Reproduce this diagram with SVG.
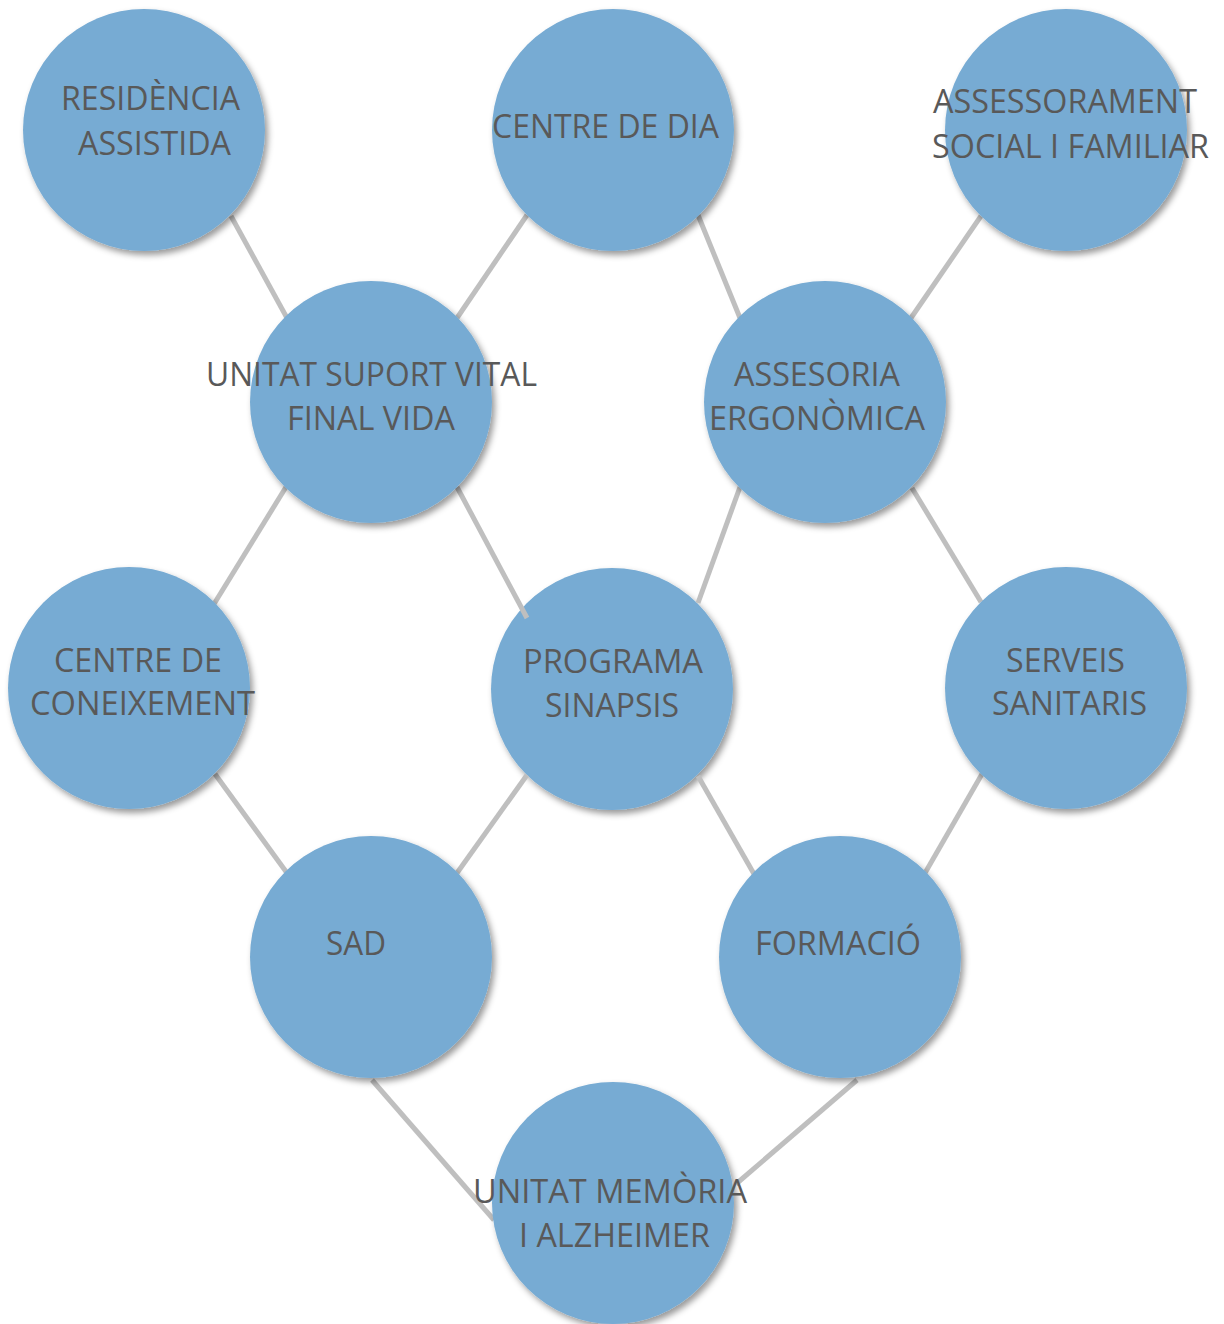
<svg xmlns="http://www.w3.org/2000/svg" width="1224" height="1324" viewBox="0 0 1224 1324">
<defs>
<filter id="sh" x="-20%" y="-20%" width="140%" height="140%">
<feDropShadow dx="3" dy="4" stdDeviation="3" flood-color="#000" flood-opacity="0.4"/>
</filter>
<style>
.n{fill:#77abd3;filter:url(#sh);}
.t{font-family:"Open Sans","Liberation Sans",sans-serif;font-size:32px;fill:#595959;text-anchor:middle;}
.c line{stroke:#bfbfbf;stroke-width:5;}
</style>
</defs>
<rect width="1224" height="1324" fill="#fff"/>
<g id="programa">
<circle class="n" cx="612" cy="689" r="121"/>
<text class="t" x="613" y="673" textLength="180" lengthAdjust="spacingAndGlyphs">PROGRAMA</text>
<text class="t" x="612" y="717" textLength="134" lengthAdjust="spacingAndGlyphs">SINAPSIS</text>
</g>
<g id="connectors" class="c">
<line x1="231" y1="216" x2="287" y2="318"/>
<line x1="527" y1="215" x2="457" y2="318"/>
<line x1="698" y1="215" x2="740" y2="318"/>
<line x1="981" y1="216" x2="911" y2="318"/>
<line x1="286" y1="487" x2="214" y2="604"/>
<line x1="457" y1="487" x2="527" y2="618"/>
<line x1="740" y1="487" x2="698" y2="603"/>
<line x1="912" y1="488" x2="981" y2="602"/>
<line x1="215" y1="774" x2="287" y2="873"/>
<line x1="527" y1="775" x2="457" y2="873"/>
<line x1="698" y1="776" x2="754" y2="874"/>
<line x1="982" y1="774" x2="925" y2="873"/>
<line x1="372" y1="1080" x2="494" y2="1220"/>
<line x1="857" y1="1080" x2="736" y2="1184"/>
</g>
<g id="residencia">
<circle class="n" cx="144" cy="130" r="121"/>
<text class="t" x="150.5" y="110" textLength="179" lengthAdjust="spacingAndGlyphs">RESIDÈNCIA</text>
<text class="t" x="154.5" y="155" textLength="153" lengthAdjust="spacingAndGlyphs">ASSISTIDA</text>
</g>
<g id="centre-dia">
<circle class="n" cx="613" cy="130" r="121"/>
<text class="t" x="605.5" y="138" textLength="227" lengthAdjust="spacingAndGlyphs">CENTRE DE DIA</text>
</g>
<g id="assessorament">
<circle class="n" cx="1066" cy="130" r="121"/>
<text class="t" x="1065" y="113" textLength="264" lengthAdjust="spacingAndGlyphs">ASSESSORAMENT</text>
<text class="t" x="1070.5" y="158" textLength="277" lengthAdjust="spacingAndGlyphs">SOCIAL I FAMILIAR</text>
</g>
<g id="unitat-suport">
<circle class="n" cx="371" cy="402" r="121"/>
<text class="t" x="371.5" y="386" textLength="331" lengthAdjust="spacingAndGlyphs">UNITAT SUPORT VITAL</text>
<text class="t" x="371" y="430" textLength="168" lengthAdjust="spacingAndGlyphs">FINAL VIDA</text>
</g>
<g id="assesoria">
<circle class="n" cx="825" cy="402" r="121"/>
<text class="t" x="817" y="386" textLength="166" lengthAdjust="spacingAndGlyphs">ASSESORIA</text>
<text class="t" x="817" y="430" textLength="216" lengthAdjust="spacingAndGlyphs">ERGONÒMICA</text>
</g>
<g id="coneixement">
<circle class="n" cx="129" cy="688" r="121"/>
<text class="t" x="138" y="672" textLength="168" lengthAdjust="spacingAndGlyphs">CENTRE DE</text>
<text class="t" x="142.5" y="715" textLength="225" lengthAdjust="spacingAndGlyphs">CONEIXEMENT</text>
</g>
<g id="serveis">
<circle class="n" cx="1066" cy="688" r="121"/>
<text class="t" x="1065.5" y="672" textLength="119" lengthAdjust="spacingAndGlyphs">SERVEIS</text>
<text class="t" x="1069.5" y="715" textLength="155" lengthAdjust="spacingAndGlyphs">SANITARIS</text>
</g>
<g id="sad">
<circle class="n" cx="371" cy="957" r="121"/>
<text class="t" x="356" y="955" textLength="60" lengthAdjust="spacingAndGlyphs">SAD</text>
</g>
<g id="formacio">
<circle class="n" cx="840" cy="957" r="121"/>
<text class="t" x="838" y="955" textLength="166" lengthAdjust="spacingAndGlyphs">FORMACIÓ</text>
</g>
<g id="memoria">
<circle class="n" cx="613" cy="1203" r="121"/>
<text class="t" x="610" y="1203" textLength="274" lengthAdjust="spacingAndGlyphs">UNITAT MEMÒRIA</text>
<text class="t" x="614.5" y="1247" textLength="191" lengthAdjust="spacingAndGlyphs">I ALZHEIMER</text>
</g>
</svg>
